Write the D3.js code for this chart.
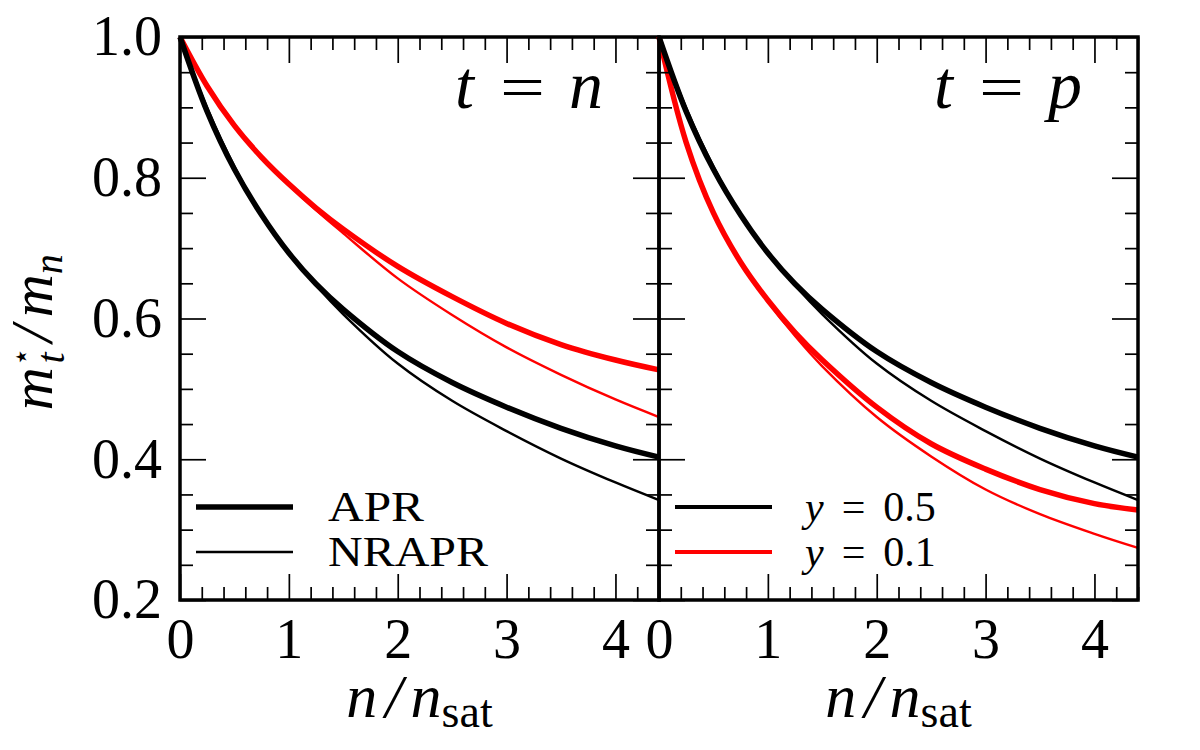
<!DOCTYPE html>
<html>
<head>
<meta charset="utf-8">
<script src="https://cdn.jsdelivr.net/npm/d3@7"></script>
<style>
body{margin:0;background:#fff;}
</style>
</head>
<body>
<svg id="drawing_region"></svg>
<script>
const density = [0,0.25,0.5,0.75,1,1.25,1.5,2,2.5,3,3.5,4,4.4];
// m*_t/m_n, symmetric matter (y = 0.5): same for t = n and t = p
const aprSym = [1,0.894,0.812,0.747,0.693,0.649,0.613,0.553,0.509,0.474,0.444,0.419,0.403];
const nraprSym = [1,0.899,0.816,0.748,0.694,0.647,0.606,0.536,0.483,0.44,0.401,0.367,0.342];
// y = 0.1, neutrons
const aprNeutron01 = [1,0.93,0.874,0.829,0.791,0.757,0.727,0.674,0.631,0.593,0.563,0.541,0.527];
const nraprNeutron01 = [1,0.932,0.876,0.83,0.79,0.754,0.721,0.657,0.605,0.559,0.52,0.485,0.46];
// y = 0.1, protons
const aprProton01 = [1,0.85,0.75,0.68,0.626,0.58,0.541,0.474,0.422,0.386,0.357,0.337,0.328];
const nraprProton01 = [1,0.852,0.751,0.68,0.624,0.575,0.532,0.46,0.404,0.357,0.322,0.294,0.274];

const xTicks = [0,1,2,3,4];
const yTicks = [0.2,0.4,0.6,0.8,1.0];
const panelNames = ["n","p"];
const legendLeft = ["APR","NRAPR"];
const legendRight = ["0.5","0.1"];

const config = {
    width:1200,
    height:750,
    margin:{top:37,left:180},
    panelWidth:479,
    panelHeight:563,
    thick:5.5,
    thin:2.4
};

const font = "'Liberation Serif','Times New Roman',serif";

const svg = d3.select("#drawing_region")
    .attr("width",config.width)
    .attr("height",config.height)
    .style("font-family",font);

const xscale = d3.scaleLinear().domain([0,4.4]).range([0,config.panelWidth]);
const yscale = d3.scaleLinear().domain([0.2,1.0]).range([config.panelHeight,0]);

const xMinor = d3.range(0,4.41,0.2).filter(d=>Math.abs(d-Math.round(d))>1e-6);
const yMinor = d3.range(0.2,1.001,0.05).filter(d=>Math.abs(d*5-Math.round(d*5))>1e-6);

const line = d3.line()
    .x(d=>xscale(d[0]))
    .y(d=>yscale(d[1]))
    .curve(d3.curveCatmullRom.alpha(0.5));

const panelSeries = [
    [
        {values:aprNeutron01,color:"#ff0000",width:config.thick},
        {values:nraprNeutron01,color:"#ff0000",width:config.thin},
        {values:aprSym,color:"#000",width:config.thick},
        {values:nraprSym,color:"#000",width:config.thin}
    ],
    [
        {values:aprProton01,color:"#ff0000",width:config.thick},
        {values:nraprProton01,color:"#ff0000",width:config.thin},
        {values:aprSym,color:"#000",width:config.thick},
        {values:nraprSym,color:"#000",width:config.thin}
    ]
];

function styleAxis(g){
    g.select(".domain").remove();
    g.selectAll(".tick line").attr("stroke","#000").attr("stroke-width",1.7);
    g.selectAll("text").attr("font-family",font).attr("font-size",56).attr("fill","#000");
}

panelNames.forEach((name,i)=>{
    const px = config.margin.left + i*config.panelWidth;
    const chart = svg.append("g")
        .attr("transform",`translate(${px},${config.margin.top})`);

    // curves
    panelSeries[i].forEach(s=>{
        chart.append("path")
            .datum(density.map((d,k)=>[d,s.values[k]]))
            .attr("fill","none")
            .attr("stroke",s.color)
            .attr("stroke-width",s.width)
            .attr("d",line);
    });

    // ticks
    chart.append("g")
        .attr("transform",`translate(0,${config.panelHeight})`)
        .call(d3.axisBottom(xscale).tickValues(xTicks).tickSize(-26).tickSizeOuter(0).tickPadding(18).tickFormat(d3.format("d")))
        .call(styleAxis);
    chart.append("g")
        .attr("transform",`translate(0,${config.panelHeight})`)
        .call(d3.axisBottom(xscale).tickValues(xMinor).tickSize(-13).tickSizeOuter(0).tickFormat(""))
        .call(styleAxis);
    chart.append("g")
        .call(d3.axisTop(xscale).tickValues(xTicks).tickSize(-26).tickSizeOuter(0).tickFormat(""))
        .call(styleAxis);
    chart.append("g")
        .call(d3.axisTop(xscale).tickValues(xMinor).tickSize(-13).tickSizeOuter(0).tickFormat(""))
        .call(styleAxis);
    chart.append("g")
        .call(d3.axisLeft(yscale).tickValues(yTicks).tickSize(-26).tickSizeOuter(0).tickPadding(18)
            .tickFormat(i===0?d3.format(".1f"):""))
        .call(styleAxis);
    chart.append("g")
        .call(d3.axisLeft(yscale).tickValues(yMinor).tickSize(-13).tickSizeOuter(0).tickFormat(""))
        .call(styleAxis);
    chart.append("g")
        .attr("transform",`translate(${config.panelWidth},0)`)
        .call(d3.axisRight(yscale).tickValues(yTicks).tickSize(-26).tickSizeOuter(0).tickFormat(""))
        .call(styleAxis);
    chart.append("g")
        .attr("transform",`translate(${config.panelWidth},0)`)
        .call(d3.axisRight(yscale).tickValues(yMinor).tickSize(-13).tickSizeOuter(0).tickFormat(""))
        .call(styleAxis);

    // frame
    chart.append("rect")
        .attr("width",config.panelWidth)
        .attr("height",config.panelHeight)
        .attr("fill","none")
        .attr("stroke","#000")
        .attr("stroke-width",3.5);

    // t = n / t = p
    const W = config.panelWidth;
    chart.append("text")
        .attr("x",W-204).attr("y",71)
        .attr("font-size",68).attr("font-style","italic")
        .text("t");
    chart.append("text")
        .attr("x",W-159).attr("y",71)
        .attr("font-size",62)
        .attr("textLength",45).attr("lengthAdjust","spacingAndGlyphs")
        .text("=");
    chart.append("text")
        .attr("x",W-56).attr("y",71)
        .attr("text-anchor","end")
        .attr("font-size",68).attr("font-style","italic")
        .text(name);

    // x label n/n_sat
    const xl = chart.append("text")
        .attr("x",W/2).attr("y",config.panelHeight+117)
        .attr("text-anchor","middle")
        .attr("font-size",62);
    xl.append("tspan").attr("font-style","italic").text("n");
    xl.append("tspan").attr("font-style","italic").attr("dx",8).text("/");
    xl.append("tspan").attr("font-style","italic").attr("dx",8).text("n");
    xl.append("tspan").attr("font-size",46).attr("dy",10).text("sat");

    // legend
    const lg = chart.append("g");
    const entries = i===0 ? legendLeft : legendRight;
    entries.forEach((lab,k)=>{
        const ly = 470 + k*45;
        let color = "#000", sw;
        if(i===0){ sw = k===0?config.thick:config.thin; }
        else { sw = 4; color = k===0?"#000":"#ff0000"; }
        lg.append("line")
            .attr("x1",16).attr("x2",113)
            .attr("y1",ly).attr("y2",ly)
            .attr("stroke",color).attr("stroke-width",sw);
        const t = lg.append("text")
            .attr("x",i===0?148:146).attr("y",ly+14)
            .attr("font-size",42);
        if(i===0){
            t.attr("textLength",lab.length*32).attr("lengthAdjust","spacingAndGlyphs").text(lab);
        }else{
            t.append("tspan").attr("font-style","italic").text("y");
            t.append("tspan").attr("dx",18).text("=");
            t.append("tspan").attr("dx",18).text(lab);
        }
    });
});

// y label m*_t / m_n
const ylab = svg.append("g")
    .attr("transform",`translate(52,${config.margin.top+config.panelHeight/2}) rotate(-90)`)
    .append("text")
    .attr("x",-92).attr("y",0)
    .attr("font-size",60);
ylab.append("tspan").attr("font-style","italic").text("m");
ylab.append("tspan").attr("font-family","'DejaVu Sans',sans-serif").attr("font-size",30).attr("dx",1).attr("dy",-21).text("\u22C6");
ylab.append("tspan").attr("font-style","italic").attr("font-size",40).attr("dx",-16).attr("dy",33).text("t");
ylab.append("tspan").attr("font-style","italic").attr("dx",10).attr("dy",-12).text("/");
ylab.append("tspan").attr("font-style","italic").attr("dx",8).text("m");
ylab.append("tspan").attr("font-style","italic").attr("font-size",40).attr("dy",10).text("n");
</script>
</body>
</html>
